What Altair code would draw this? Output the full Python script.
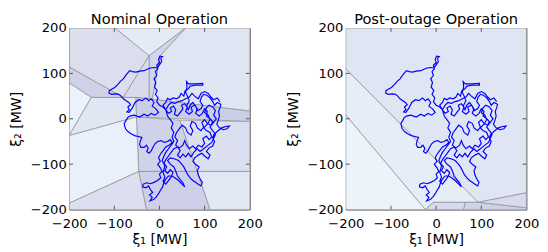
import altair as alt
import pandas as pd

TITLES = ["Nominal Operation", "Post-outage Operation"]
TICK_VALUES = [-200, -100, 0, 100, 200]
INNER_TICKS = [-100, 0, 100]

# trajectory (xi1, xi2) in MW
TRAJ = [
    (14, 20), (8, 26), (0, 30), (-6, 38), (-3, 46), (-9, 54), (-5, 62), (-11, 70), (-8, 80), (-12, 88),
    (-6, 96), (-9, 104), (-4, 110), (-6, 118), (0, 124), (-2, 131), (1, 138), (7, 137), (3, 133), (5, 126),
    (0, 119), (-5, 112),
    (-12, 113), (-20, 112), (-27, 109), (-34, 106), (-44, 105), (-52, 103), (-60, 104), (-66, 106), (-70, 101),
    (-75, 95), (-80, 88), (-86, 83), (-92, 76), (-99, 69), (-106, 65), (-111, 62), (-112, 57), (-106, 54),
    (-97, 55), (-90, 54), (-85, 50), (-80, 44), (-74, 40), (-68, 36), (-64, 31), (-70, 26), (-67, 20),
    (-72, 15), (-67, 14),
    (-60, 24), (-54, 36), (-46, 42), (-38, 40), (-30, 46), (-24, 40), (-18, 44), (-12, 36), (-16, 28),
    (-8, 22), (-2, 14), (-10, 8), (-18, 12), (-26, 6), (-34, 10), (-44, 4), (-56, 8), (-66, 6),
    (-71, 2), (-74, -4), (-78, -10), (-77, -16), (-75, -22), (-70, -28), (-63, -33), (-55, -37), (-47, -39),
    (-39, -41), (-42, -48), (-44, -56), (-41, -63), (-34, -63), (-29, -58), (-25, -65), (-28, -72), (-23, -76),
    (-18, -70), (-14, -62), (-10, -55), (-4, -50), (4, -48), (10, -52), (18, -50), (24, -46), (28, -52),
    (22, -58), (14, -62), (8, -70), (2, -78), (-2, -86), (2, -94), (-4, -100), (2, -108), (6, -116), (0, -122),
    (3, -130), (-4, -136), (-12, -140), (-20, -143), (-28, -141), (-36, -144), (-37, -150), (-30, -152),
    (-24, -148), (-20, -156), (-15, -162), (-22, -168), (-16, -173), (-21, -181), (-13, -178), (-7, -172),
    (-2, -165), (2, -158), (7, -150), (10, -140), (14, -133), (20, -126), (28, -126), (34, -130), (42, -136),
    (50, -144), (56, -150), (52, -141), (46, -134), (40, -126), (36, -115), (32, -106), (24, -100), (18, -92),
    (24, -86), (33, -88), (42, -92), (48, -98), (54, -106), (58, -114), (62, -122), (68, -130), (74, -136),
    (80, -140), (86, -144), (92, -148), (95, -140), (90, -132), (86, -124), (84, -114), (88, -106), (80, -100),
    (74, -94), (78, -86), (86, -80), (94, -76), (100, -82), (108, -88), (112, -80), (104, -72), (110, -64),
    (118, -60), (122, -50), (118, -42), (121, -34), (128, -28), (138, -20), (147, -17), (155, -16), (150, -22),
    (141, -24), (133, -20), (127, -12), (130, -4), (133, 6), (131, 16), (134, 24), (136, 32), (128, 36),
    (122, 30), (118, 38), (112, 46), (105, 52), (98, 54), (93, 48), (90, 38), (96, 30), (92, 22), (84, 18),
    (80, 28), (74, 36), (68, 30), (64, 20), (60, 28), (66, 40), (62, 50), (58, 58), (61, 70), (60, 82),
    (64, 77), (80, 77), (96, 78), (96, 74), (80, 74), (68, 72), (64, 66), (57, 62), (54, 50), (48, 56),
    (44, 48), (38, 44), (30, 46), (24, 42), (18, 45), (14, 36), (8, 30), (14, 20),
    (20, 12), (27, 16), (24, 24), (31, 28), (36, 20), (33, 10), (40, 6), (46, 14), (52, 22), (49, 30),
    (56, 33), (62, 26), (58, 16), (66, 10), (73, 16), (70, 26), (78, 30), (84, 22), (80, 12), (88, 6),
    (95, 12), (100, 22), (106, 16), (104, 6), (112, 0), (118, -6), (114, -14), (106, -10), (100, -2),
    (94, -8), (98, -18), (92, -26), (84, -20), (80, -10), (72, -6), (68, -16), (74, -26), (70, -36),
    (62, -30), (58, -20), (50, -14), (44, -22), (38, -30), (34, -40), (40, -48), (36, -58), (44, -64),
    (52, -58), (56, -48), (60, -58), (66, -66), (74, -60), (80, -66), (86, -58), (94, -62), (100, -54),
    (96, -44), (104, -38), (110, -46), (116, -40), (112, -30), (104, -26),
    (98, -20), (106, -12), (112, -2), (108, 8), (100, 14), (104, 24), (110, 30), (118, 26), (124, 18),
    (120, 8), (126, 0), (120, -8), (112, -18), (118, -26), (124, -34), (116, -52), (108, -58), (98, -66),
    (90, -72), (84, -66), (76, -74), (70, -84), (64, -76), (58, -84), (52, -78), (46, -86), (40, -80),
    (46, -70), (40, -62), (32, -66), (26, -74), (20, -82), (14, -90), (10, -98), (16, -106), (12, -114),
    (18, -120), (24, -112), (30, -118), (26, -128), (20, -136), (14, -144), (8, -138),
    (12, -128), (8, -118), (12, -104), (6, -92), (10, -82), (14, -74), (20, -66), (26, -58), (32, -50),
    (28, -40), (32, -30), (26, -20), (30, -10), (24, -2), (18, 6), (14, 20),
    (20, 30), (26, 36), (34, 34), (42, 38), (50, 40), (58, 44), (66, 48), (72, 56), (78, 50), (86, 44),
    (92, 56), (100, 60), (108, 56), (114, 48), (120, 42), (128, 46), (134, 38),
]

# critical regions, nominal operation: (fill colour, vertices)
NOMINAL_REGIONS = [
    ("#dcdeee", [(-200, 200), (-98, 200), (-23, 139), (-80, 47), (-200, 114)]),
    ("#e4eaf6", [(-98, 200), (58, 200), (-23, 139)]),
    ("#d3d5ea", [(58, 200), (-23, 139), (-23, 44), (-16, 43), (2, 139)]),
    ("#dfe5f2", [(58, 200), (200, 200), (200, 17), (-16, 43), (2, 139)]),
    ("#d9dbed", [(-23, 139), (-80, 47), (-52, 47), (-23, 44)]),
    ("#cfd1e8", [(-200, 114), (-80, 47), (-151, 47), (-200, 79)]),
    ("#ebf2fb", [(-200, 79), (-151, 47), (-200, -37)]),
    ("#e1e6f3", [(-200, -37), (-151, 47), (-52, 47), (-51, 4)]),
    ("#cbcee7", [(-52, 47), (-23, 44), (-16, 43), (200, 17), (200, -6), (-51, 4)]),
    ("#d0d2ea", [(-51, 4), (45, -3), (84, -116), (-46, -116)]),
    ("#cdd0e8", [(-46, -116), (84, -116), (112, -200), (-29, -200)]),
    ("#dcdff0", [(45, -3), (200, -6), (200, -116), (84, -116)]),
    ("#e2e7f4", [(84, -116), (200, -116), (200, -200), (112, -200)]),
    ("#e9f0fa", [(-200, -37), (-51, 4), (-46, -116), (-200, -186)]),
    ("#dcdff0", [(-200, -186), (-46, -116), (-29, -200), (-200, -200)]),
]

POST_REGIONS = [
    ("#dfe5f2", [(-200, 200), (200, 200), (200, -163), (93, -184), (-200, 110)]),
    ("#e5edf7", [(-200, 110), (93, -184), (-6, -184), (-24, -200), (-200, 8)]),
    ("#ecf3fb", [(-200, 8), (-24, -200), (-200, -200)]),
    ("#d7daee", [(-6, -184), (65, -184), (61, -200), (-24, -200)]),
    ("#cfd2e9", [(65, -184), (93, -184), (200, -196), (200, -200), (61, -200)]),
    ("#d8dbee", [(93, -184), (200, -163), (200, -196)]),
]

W = 186
H = 187
TICK_LEN = 8.5   # in MW, about 4 px
FONT = "DejaVu Sans"
LABEL_SIZE = 13.5
TITLE_SIZE = 14.5
PANEL_TITLE_SIZE = 15


def region_frame(regions):
    rows = []
    for pid, (col, pts) in enumerate(regions):
        closed = pts + [pts[0]]
        for k, (x, y) in enumerate(closed):
            rows.append({"pid": pid, "k": k, "x": x, "y": y, "fill": col})
    return pd.DataFrame(rows)


traj = pd.DataFrame({"i": range(len(TRAJ)), "x": [p[0] for p in TRAJ], "y": [p[1] for p in TRAJ]})

tick_rows = []
for v in INNER_TICKS:
    tick_rows.append({"x": v, "x2": v, "y": -200, "y2": -200 + TICK_LEN})
    tick_rows.append({"x": v, "x2": v, "y": 200, "y2": 200 - TICK_LEN})
    tick_rows.append({"x": -200, "x2": -200 + TICK_LEN, "y": v, "y2": v})
    tick_rows.append({"x": 200, "x2": 200 - TICK_LEN, "y": v, "y2": v})
ticks = pd.DataFrame(tick_rows)

xs = alt.Scale(domain=[-200, 200], nice=False, zero=False)
ys = alt.Scale(domain=[-200, 200], nice=False, zero=False)


def panel(regions, title):
    xaxis = alt.Axis(values=TICK_VALUES, title="ξ₁ [MW]", ticks=False, domain=False, grid=False,
                     labelFontSize=LABEL_SIZE, titleFontSize=TITLE_SIZE, labelFont=FONT, titleFont=FONT,
                     labelPadding=7, titlePadding=3, labelColor="black", titleColor="black",
                     titleFontWeight="normal", labelFlush=False)
    yaxis = alt.Axis(values=TICK_VALUES, title="ξ₂ [MW]", ticks=False, domain=False, grid=False,
                     labelFontSize=LABEL_SIZE, titleFontSize=TITLE_SIZE, labelFont=FONT, titleFont=FONT,
                     labelPadding=3, titlePadding=11, labelColor="black", titleColor="black",
                     titleFontWeight="normal", labelFlush=False, minExtent=36, maxExtent=36)
    reg = alt.Chart(region_frame(regions)).mark_line(
        stroke="#8c8c8c", strokeWidth=0.7, clip=True
    ).encode(
        x=alt.X("x:Q", scale=xs, axis=xaxis),
        y=alt.Y("y:Q", scale=ys, axis=yaxis),
        detail="pid:N",
        order="k:Q",
        fill=alt.Fill("fill:N", scale=None),
    )
    path = alt.Chart(traj).mark_line(color="#0000ff", strokeWidth=1.2, clip=True).encode(
        x="x:Q", y="y:Q", order="i:Q"
    )
    tk = alt.Chart(ticks).mark_rule(color="#555555", strokeWidth=1).encode(
        x="x:Q", x2="x2:Q", y="y:Q", y2="y2:Q"
    )
    return alt.layer(reg, path, tk).properties(
        width=W, height=H,
        title=alt.TitleParams(title, fontSize=PANEL_TITLE_SIZE, font=FONT, fontWeight="normal", color="black",
                              offset=-6),
    )


chart = alt.hconcat(panel(NOMINAL_REGIONS, TITLES[0]), panel(POST_REGIONS, TITLES[1]), spacing=22).properties(
    padding={"left": 0, "top": 0, "right": 0, "bottom": 0}
).configure_view(stroke="#555555", strokeWidth=1).configure_axis(labelFont=FONT)

chart.save("out.html", embed_options={"renderer": "svg", "actions": False})
